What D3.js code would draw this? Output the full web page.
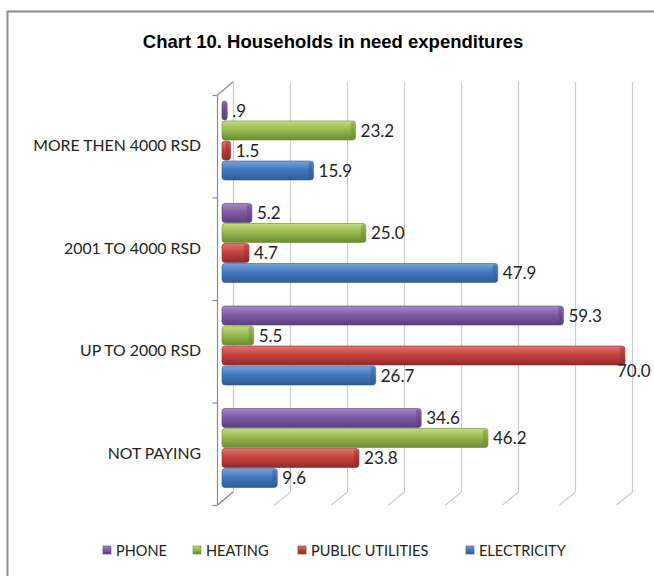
<!DOCTYPE html>
<html><head><meta charset="utf-8">
<script src="https://cdn.jsdelivr.net/npm/d3@7"></script>
<style>body{margin:0;background:#fff}svg{display:block}</style>
</head><body>
<script>
const categories = ["MORE THEN 4000 RSD", "2001 TO 4000 RSD", "UP TO 2000 RSD", "NOT PAYING"];
const seriesNames = ["PHONE", "HEATING", "PUBLIC UTILITIES", "ELECTRICITY"];
const phone = [0.9, 5.2, 59.3, 34.6];
const heating = [23.2, 25.0, 5.5, 46.2];
const publicUtilities = [1.5, 4.7, 70.0, 23.8];
const electricity = [15.9, 47.9, 26.7, 9.6];
const tickValues = [0, 10, 20, 30, 40, 50, 60, 70];

const seriesValues = [phone, heating, publicUtilities, electricity];
const colors = [
  {top:"#a58acb", mid:"#7e5ca6", bot:"#5a3f7e"},
  {top:"#c3dc80", mid:"#98ba4f", bot:"#6c8a32"},
  {top:"#e27572", mid:"#c9423f", bot:"#8e2c2a"},
  {top:"#7aa3d8", mid:"#4479c0", bot:"#2f5c96"}
];

const W = 654, H = 576;
const svg = d3.select("body").append("svg").attr("width", W).attr("height", H)
  .style("font-family", "Lato, 'Open Sans', sans-serif");

const defs = svg.append("defs");
colors.forEach((c, i) => {
  const g = defs.append("linearGradient").attr("id", "g" + i).attr("x1", 0).attr("y1", 0).attr("x2", 0).attr("y2", 1);
  g.append("stop").attr("offset", "0%").attr("stop-color", c.top);
  g.append("stop").attr("offset", "45%").attr("stop-color", c.mid);
  g.append("stop").attr("offset", "100%").attr("stop-color", c.bot);
});

// outer frame
svg.append("rect").attr("x", 7.5).attr("y", 11.5).attr("width", 700).attr("height", 700)
  .attr("fill", "none").attr("stroke", "#8c8c8c").attr("stroke-width", 2);

// title
svg.append("text").attr("x", 333).attr("y", 48).attr("text-anchor", "middle")
  .style("font-family", "'Liberation Sans', Arial, sans-serif").style("font-weight", "bold")
  .style("font-size", "18.5px").attr("fill", "#000")
  .text("Chart 10. Households in need expenditures");

// 3D geometry
const depthDx = -16, depthDy = 13;
const backTop = 82, backBottom = 492;
const xBack = d3.scaleLinear().domain([0, 70]).range([233, 632]);
const xFront = d3.scaleLinear().domain([0, 70]).range([222, 625]);
const yBand = d3.scaleBand().domain(categories).range([95, 505]);
const yInner = d3.scaleBand().domain(seriesNames).range([6, 86]);

const grid = svg.append("g").attr("stroke", "#cccccc").attr("stroke-width", 1.2).attr("fill", "none");
tickValues.forEach(v => {
  const x = Math.round(xBack(v)) + 0.5;
  grid.append("line").attr("x1", x).attr("x2", x).attr("y1", backTop).attr("y2", backBottom);
  grid.append("line").attr("x1", x).attr("x2", x + depthDx).attr("y1", backBottom).attr("y2", backBottom + depthDy);
});

// left wall (vertical axis)
const ax = svg.append("g").attr("stroke", "#8c8c8c").attr("stroke-width", 1.2).attr("fill", "none");
const wx = xBack(0) + depthDx + 0.5;
ax.append("line").attr("x1", xBack(0)).attr("y1", backTop).attr("x2", wx).attr("y2", backTop + depthDy);
ax.append("line").attr("x1", wx).attr("y1", backTop + depthDy).attr("x2", wx).attr("y2", backBottom + depthDy);
ax.append("line").attr("x1", xBack(0)).attr("y1", backBottom).attr("x2", wx).attr("y2", backBottom + depthDy);
const bounds = [95].concat(categories.map(c => yBand(c) + yBand.bandwidth()));
bounds.forEach(b => {
  ax.append("line").attr("x1", wx - 5).attr("x2", wx).attr("y1", b + 0.5).attr("y2", b + 0.5);
});

// category labels
svg.append("g").selectAll("text").data(categories).join("text")
  .attr("x", 201).attr("y", d => yBand(d) + yBand.bandwidth() / 2 + 5)
  .attr("text-anchor", "end").style("font-size", "15.8px").attr("fill", "#222")
  .text(d => d);

// bars
const barsG = svg.append("g");
const barH = yInner.bandwidth() - 1;
categories.forEach((cat, ci) => {
  seriesNames.forEach((s, si) => {
    const v = seriesValues[si][ci];
    const y0 = yBand(cat) + yInner(s);
    const x0 = xFront(0), x1 = xFront(v);
    const w = Math.max(x1 - x0, 3);
    barsG.append("rect").attr("x", x0).attr("y", y0).attr("width", w).attr("height", barH)
      .attr("rx", 3).attr("ry", 3).attr("fill", "url(#g" + si + ")")
      .attr("stroke", colors[si].bot).attr("stroke-width", 0.6);
    barsG.append("rect").attr("x", x0 + w - 5).attr("y", y0 + 1).attr("width", 4).attr("height", barH - 2)
      .attr("rx", 2).attr("fill", colors[si].bot).attr("opacity", 0.45);
    const txt = (v < 1 ? String(v).replace(/^0/, "") : v.toFixed(1));
    let lx = x1 + 5, ly = y0 + barH / 2 + 6;
    const estW = txt.length * 9;
    if (lx + estW > W - 2) { lx = W - 1 - estW; ly += 15; }
    barsG.append("text").attr("x", lx).attr("y", ly).style("font-size", "17px").attr("fill", "#222").text(txt);
  });
});

// legend
const legendX = [103, 193, 298, 466];
const lg = svg.append("g");
seriesNames.forEach((s, i) => {
  lg.append("rect").attr("x", legendX[i]).attr("y", 546).attr("width", 8).attr("height", 8)
    .attr("fill", "url(#g" + i + ")").attr("stroke", colors[i].bot).attr("stroke-width", 0.6);
  lg.append("text").attr("x", legendX[i] + 13).attr("y", 556).style("font-size", "14.5px").attr("fill", "#222").text(s);
});
</script>
</body></html>
